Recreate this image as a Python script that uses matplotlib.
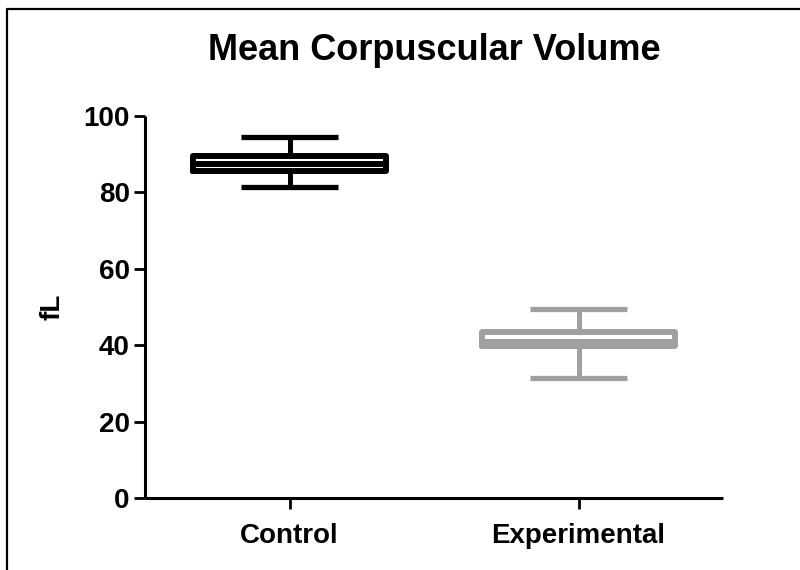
import matplotlib
matplotlib.use("Agg")
import matplotlib.pyplot as plt
from matplotlib.lines import Line2D

# box plot summary values (fL)
groups = ["Control", "Experimental"]
whisker_low = [81.4, 31.5]
q1 = [85.5, 39.7]
median = [87.4, 40.9]
q3 = [89.4, 43.3]
whisker_high = [94.5, 49.4]
colors = ["black", "#a0a0a0"]

plt.rcParams["font.family"] = ["Liberation Sans", "DejaVu Sans"]
plt.rcParams["font.weight"] = "bold"

fig = plt.figure(figsize=(8, 5.7), dpi=100)
ax = fig.add_axes([145 / 800, 72 / 570, 578 / 800, 382.3 / 570])

for i, g in enumerate(groups):
    stats = [{"label": g, "whislo": whisker_low[i], "q1": q1[i], "med": median[i],
              "q3": q3[i], "whishi": whisker_high[i]}]
    c = colors[i]
    ax.bxp(stats, positions=[i + 1], widths=0.667, capwidths=0.337,
           showfliers=False, manage_ticks=False,
           boxprops=dict(color=c, linewidth=4.3, solid_joinstyle="round", solid_capstyle="round"),
           medianprops=dict(color=c, linewidth=4.3, solid_capstyle="butt"),
           whiskerprops=dict(color=c, linewidth=3.6),
           capprops=dict(color=c, linewidth=3.8, solid_capstyle="butt"))

ax.set_xlim(0.5, 2.5)
ax.set_ylim(0, 100)
ax.set_xticks([1, 2])
ax.set_xticklabels(groups)
ax.set_yticks([0, 20, 40, 60, 80, 100])

for s in ["top", "right"]:
    ax.spines[s].set_visible(False)
for s in ["left", "bottom"]:
    ax.spines[s].set_linewidth(2.2)
    ax.spines[s].set_capstyle("butt")

ax.tick_params(axis="both", length=8, width=2, labelsize=20)
ax.tick_params(axis="y", pad=3)
ax.tick_params(axis="x", pad=10)

ax.set_ylabel("fL", fontsize=20, fontweight="bold", labelpad=13)
ax.set_title("Mean Corpuscular Volume", fontsize=26, fontweight="bold", pad=40)

# thin frame around the picture (only left and top edges are visible)
fig.add_artist(Line2D([7 / 800, 7 / 800, 1.0], [0.0, 1 - 9 / 570, 1 - 9 / 570],
                      transform=fig.transFigure, color="black", linewidth=1.6))

fig.savefig("out.png", dpi=100)
